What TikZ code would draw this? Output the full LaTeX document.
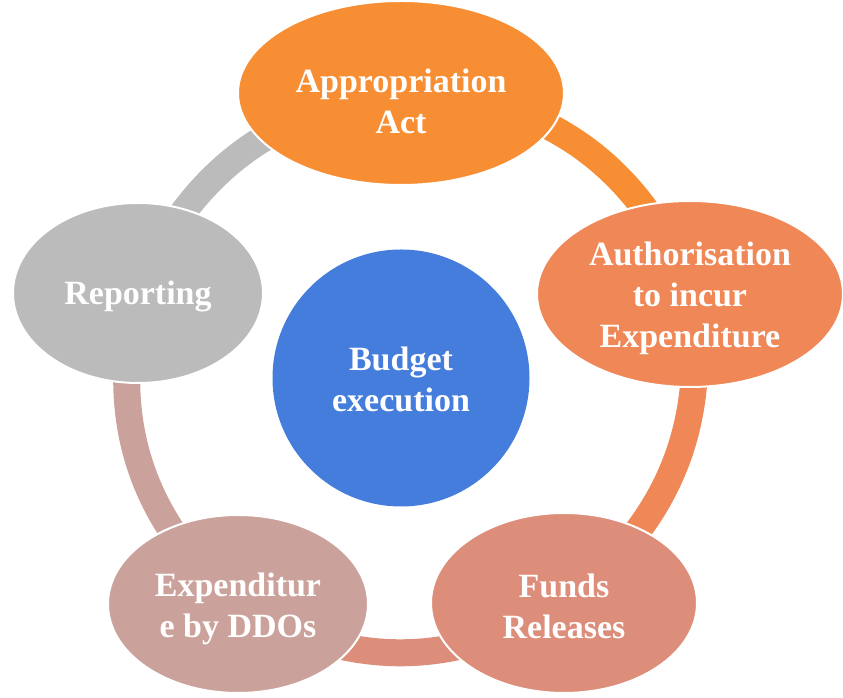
\documentclass[tikz,border=0pt]{standalone}
\usepackage{fontspec}
\setmainfont{Liberation Serif}
\usepackage{tikz}
\usetikzlibrary{shapes.geometric, backgrounds}

\definecolor{apporange}{RGB}{247,142,52}
\definecolor{authorange}{RGB}{239,135,86}
\definecolor{fundpink}{RGB}{221,142,122}
\definecolor{ddorose}{RGB}{203,162,155}
\definecolor{repgrey}{RGB}{187,187,187}
\definecolor{execblue}{RGB}{68,125,219}
% invisible strut that pushes the text a little down in its shape
\newcommand{\droptext}[1]{\rule{0pt}{#1}}

\begin{document}
\begin{tikzpicture}[x=0.3mm, y=0.3mm,
  stage/.style={ellipse, fill=#1, draw=white, line width=0.6mm, inner sep=0pt,
    text=white, align=center, font=\bfseries\fontsize{29}{35}\selectfont},
  band/.style={line width=8.1mm, draw=#1}]
\useasboundingbox (0,0) rectangle (843,698);
% centre
\node[circle, fill=execblue, minimum size=77.1mm, inner sep=0pt, text=white,
  align=center, font=\bfseries\fontsize{29}{35}\selectfont] (exec) at (401,320)
  {\droptext{22pt}Budget\\ execution};
% cycle stages
\node[stage=apporange, minimum width=97.8mm, minimum height=55.2mm] (approp) at (401,605)
  {\droptext{34pt}Appropriation\\ Act};
\node[stage=authorange, minimum width=91.8mm, minimum height=55.8mm] (auth) at (690,404)
  {\droptext{27pt}Authorisation\\ to incur\\ Expenditure};
\node[stage=fundpink, minimum width=79.8mm, minimum height=54mm] (funds) at (564,95)
  {\droptext{26pt}Funds\\ Releases};
\node[stage=ddorose, minimum width=78mm, minimum height=53.4mm] (ddo) at (238,94)
  {\droptext{29pt}Expenditur\\ e by DDOs};
\node[stage=repgrey, minimum width=75mm, minimum height=54mm] (report) at (138,405)
  {\droptext{26pt}Reporting};
\begin{scope}[on background layer]
\draw[band=apporange] (approp.center) to[bend left=35] (auth.center);
\draw[band=authorange] (auth.center) to[bend left=31] (funds.center);
\draw[band=fundpink] (funds.center) to[bend left=31] (ddo.center);
\draw[band=ddorose] (ddo.center) to[bend left=32] (report.center);
\draw[band=repgrey] (report.center) to[bend left=30] (approp.center);
\end{scope}
\end{tikzpicture}
\end{document}
